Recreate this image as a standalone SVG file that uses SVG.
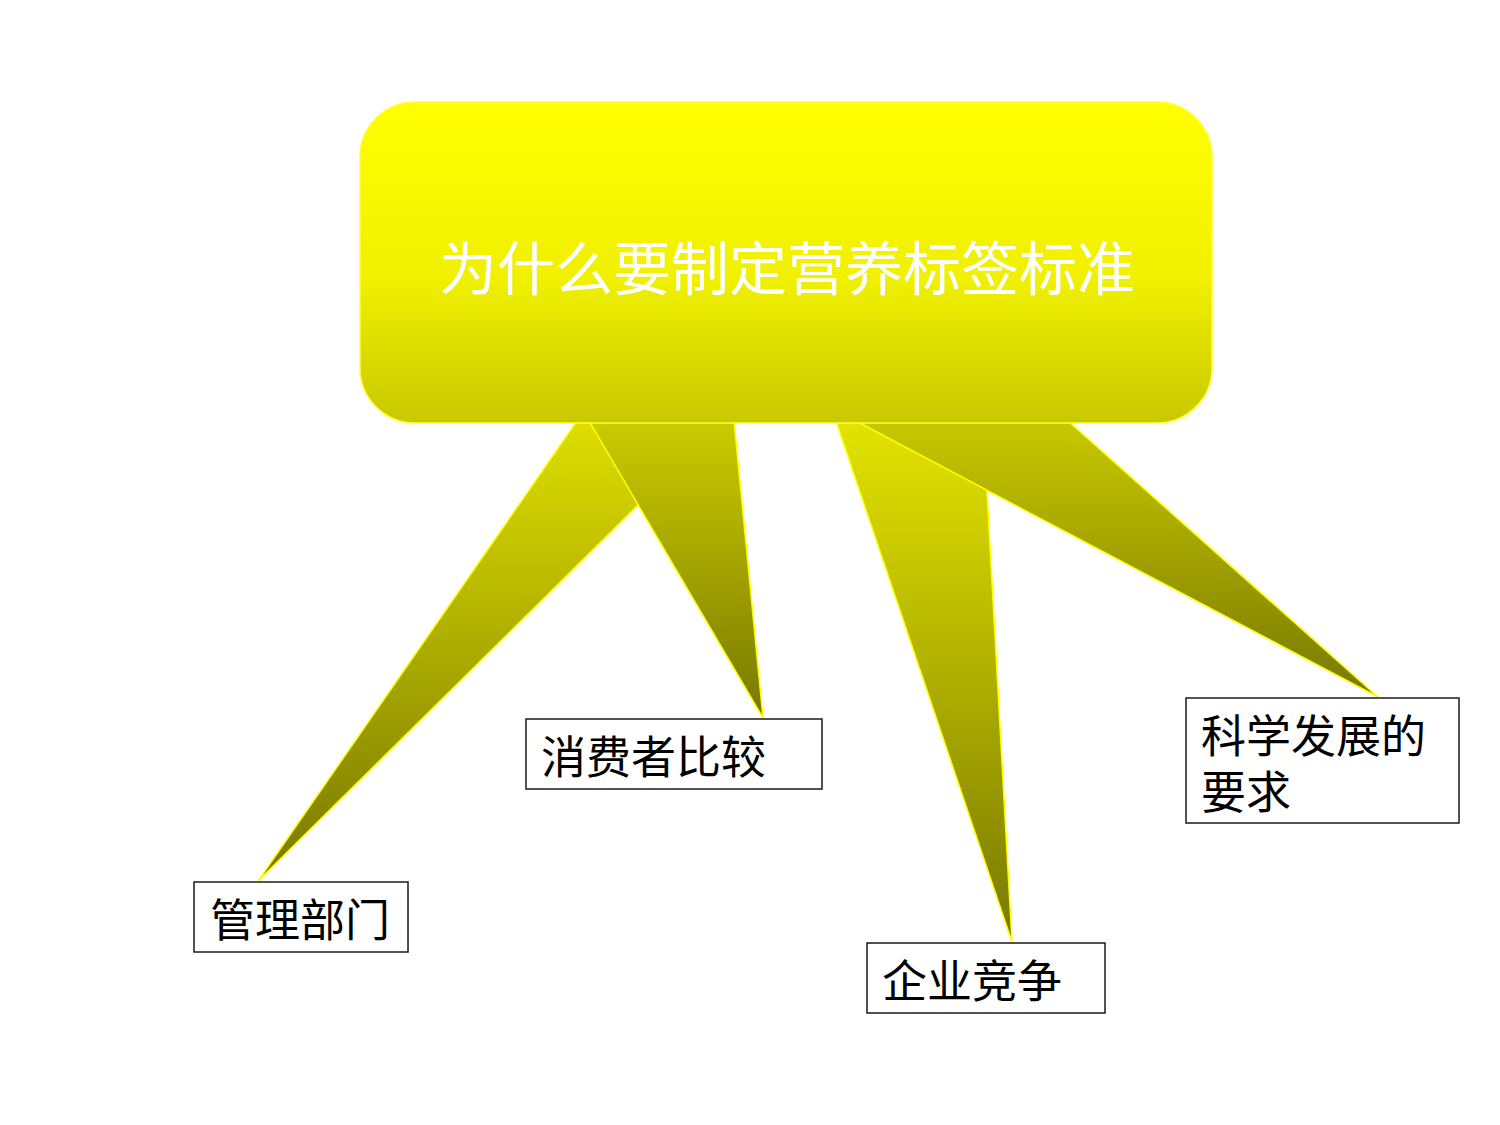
<svg xmlns="http://www.w3.org/2000/svg" width="1500" height="1125" viewBox="0 0 1500 1125">
  <style>
    .wedge { stroke: #FFFF00; stroke-width: 1.5; stroke-linejoin: miter; }
    .box { fill: #FFFFFF; stroke: #1A1A1A; stroke-width: 1.5; }
    .label { font-family: "Noto Sans CJK SC", "Liberation Sans", sans-serif; font-size: 45px; fill: #000000; }
    .title { font-family: "Noto Sans CJK SC", "Liberation Sans", sans-serif; font-size: 58px; fill: #FFFFFF; }
  </style>
  <defs>
    <linearGradient id="gA" gradientUnits="userSpaceOnUse" x1="0" y1="102" x2="0" y2="881">
      <stop offset="0" stop-color="#FFFF00"/>
      <stop offset="0.3" stop-color="#F0F000"/>
      <stop offset="0.54" stop-color="#C8C800"/>
      <stop offset="1" stop-color="#787800"/>
    </linearGradient>
    <linearGradient id="gB" gradientUnits="userSpaceOnUse" x1="0" y1="102" x2="0" y2="718">
      <stop offset="0" stop-color="#FFFF00"/>
      <stop offset="0.3" stop-color="#F0F000"/>
      <stop offset="0.54" stop-color="#C8C800"/>
      <stop offset="1" stop-color="#787800"/>
    </linearGradient>
    <linearGradient id="gC" gradientUnits="userSpaceOnUse" x1="0" y1="102" x2="0" y2="942">
      <stop offset="0" stop-color="#FFFF00"/>
      <stop offset="0.3" stop-color="#F0F000"/>
      <stop offset="0.54" stop-color="#C8C800"/>
      <stop offset="1" stop-color="#787800"/>
    </linearGradient>
    <linearGradient id="gD" gradientUnits="userSpaceOnUse" x1="0" y1="102" x2="0" y2="697">
      <stop offset="0" stop-color="#FFFF00"/>
      <stop offset="0.3" stop-color="#F0F000"/>
      <stop offset="0.54" stop-color="#C8C800"/>
      <stop offset="1" stop-color="#787800"/>
    </linearGradient>
  </defs>

  <rect x="0" y="0" width="1500" height="1125" fill="#FFFFFF"/>

  <g id="connectors">
    <polygon class="wedge" fill="url(#gA)" points="577,421 723,421 258,881"/>
    <polygon class="wedge" fill="url(#gB)" points="589,421 734,421 763,718"/>
    <polygon class="wedge" fill="url(#gC)" points="836,421 983,421 1012,942"/>
    <polygon class="wedge" fill="url(#gD)" points="856,421 1068,421 1378,697"/>
  </g>

  <g id="node-title">
    <rect x="360" y="102" width="852" height="321" rx="55" ry="55" fill="url(#gD)" stroke="#FFFF33" stroke-width="1.5"/>
    <text class="title" x="787" y="290" text-anchor="middle">为什么要制定营养标签标准</text>
  </g>

  <g id="node-guanli">
    <rect class="box" x="194" y="882" width="214" height="70"/>
    <text class="label" x="210" y="937" font-size="44">管理部门</text>
  </g>

  <g id="node-xiaofeizhe">
    <rect class="box" x="526" y="719" width="296" height="70"/>
    <text class="label" x="541" y="774">消费者比较</text>
  </g>

  <g id="node-qiye">
    <rect class="box" x="867" y="943" width="238" height="70"/>
    <text class="label" x="882" y="998">企业竞争</text>
  </g>

  <g id="node-kexue">
    <rect class="box" x="1186" y="698" width="273" height="125"/>
    <text class="label" x="1201" y="753">科学发展的</text>
    <text class="label" x="1201" y="809">要求</text>
  </g>
</svg>
